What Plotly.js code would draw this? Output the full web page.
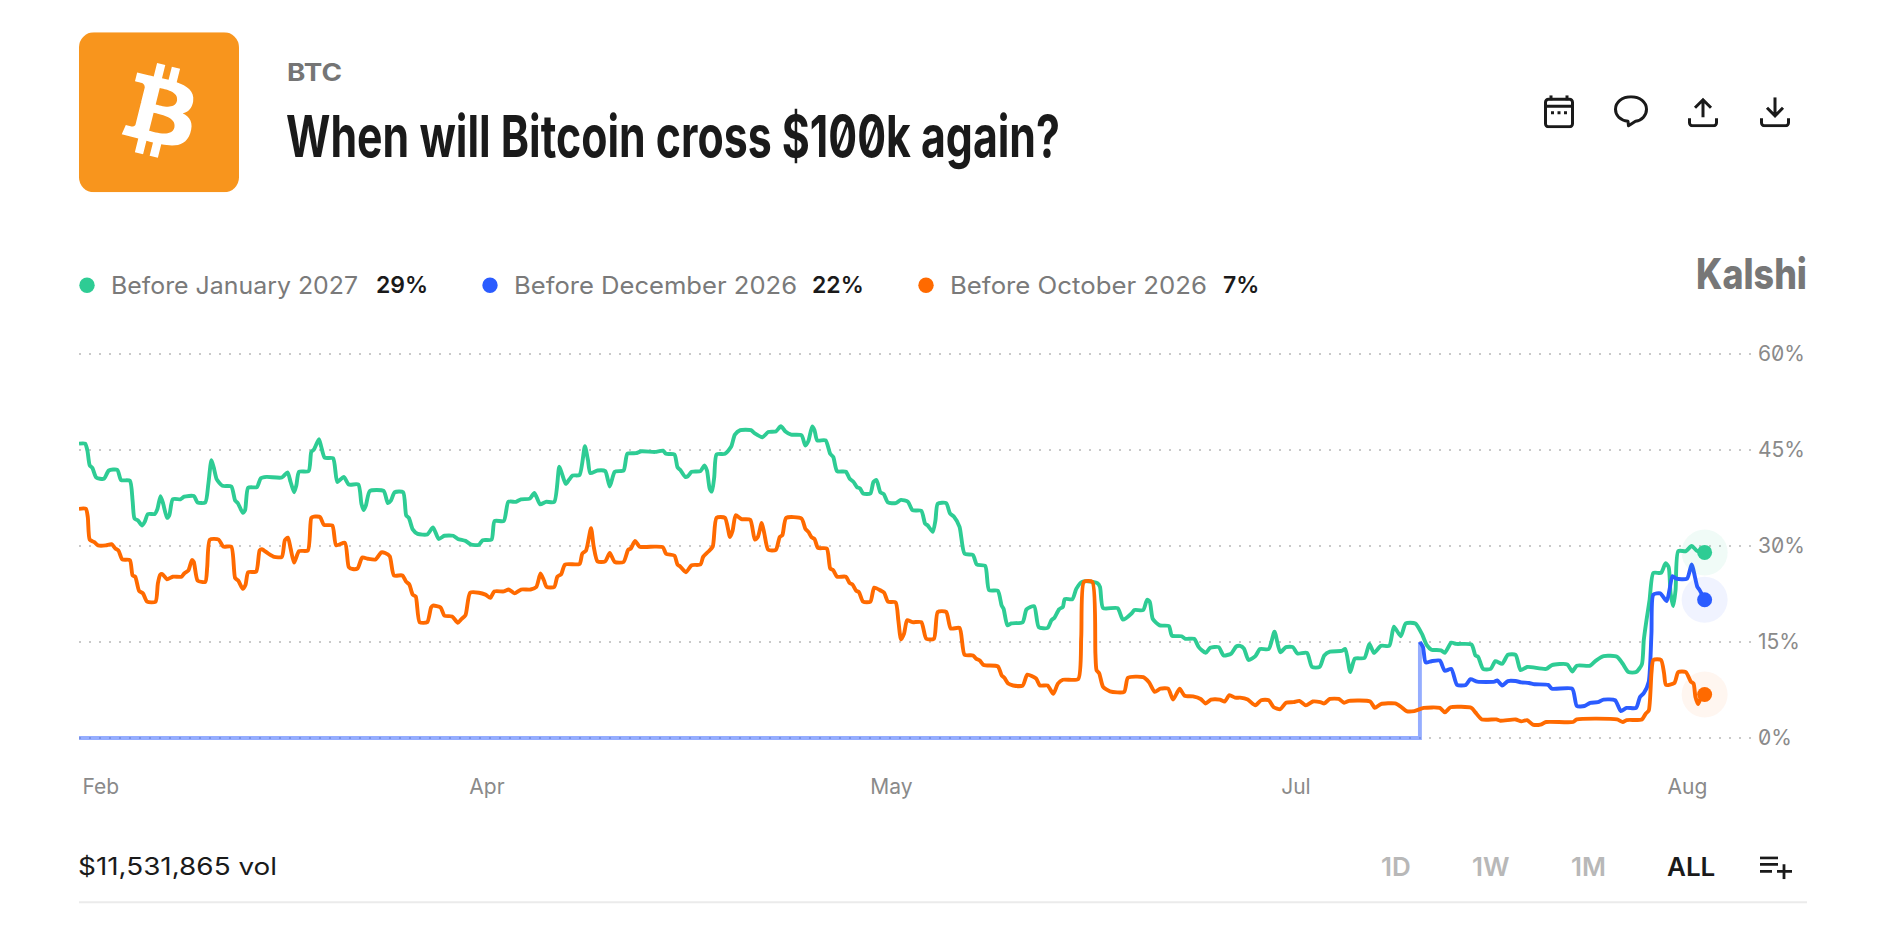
<!DOCTYPE html>
<html><head><meta charset="utf-8">
<script src="https://cdn.plot.ly/plotly-3.0.1.min.js"></script>
<style>
html,body{margin:0;padding:0;background:#fff;overflow:hidden}
#chart{width:1894px;height:928px}
.ytick text{font-feature-settings:"zero" 1;}
</style></head><body><div id="chart"></div>
<script>
// [hours since market open, probability %]
const janPoints=[[0,46.0],[16,46.0],[22,44.9],[28,42.6],[35,42.2],[45,40.7],[65,40.5],[78,41.8],[100,41.9],[110,40.3],[133,40.2],[140,37.1],[145,34.3],[154,34.0],[165,33.2],[172,33.8],[180,35.0],[198,35.0],[205,35.8],[213,37.8],[220,36.6],[230,34.4],[236,34.8],[245,37.3],[265,37.3],[275,37.7],[300,37.8],[310,36.8],[330,36.8],[338,39.7],[346,43.4],[352,42.3],[360,40.4],[375,39.4],[398,39.3],[408,37.1],[415,36.7],[428,35.2],[434,35.6],[442,39.1],[465,39.2],[475,40.6],[490,40.8],[530,40.7],[545,41.5],[553,40.0],[562,38.4],[568,39.5],[575,41.6],[600,41.7],[607,44.7],[614,45.1],[627,46.7],[633,45.5],[642,43.8],[664,43.7],[675,40.0],[692,40.8],[705,39.6],[730,39.6],[738,36.6],[744,35.6],[750,36.4],[760,38.6],[796,38.6],[807,36.7],[815,37.1],[825,38.4],[847,38.4],[855,34.8],[862,34.4],[872,32.6],[885,31.9],[910,31.8],[925,32.9],[940,31.1],[955,31.6],[978,31.6],[990,31.1],[1010,30.8],[1025,30.2],[1045,30.2],[1055,30.9],[1078,31.0],[1086,33.9],[1110,33.9],[1122,36.9],[1142,36.9],[1155,37.3],[1178,37.4],[1190,38.3],[1205,36.5],[1220,36.9],[1242,36.9],[1255,42.4],[1262,41.3],[1272,39.7],[1280,40.3],[1290,41.0],[1308,41.1],[1322,45.6],[1330,43.4],[1336,41.4],[1355,41.8],[1375,41.7],[1387,39.3],[1400,41.6],[1423,41.8],[1433,44.4],[1455,44.5],[1470,44.8],[1505,44.7],[1526,44.9],
[1534,44.4],[1556,44.3],[1564,42.3],[1571,41.9],[1584,40.8],[1591,40.9],[1601,41.6],[1624,41.7],[1634,42.6],[1641,41.8],[1648,39.0],[1654,38.5],[1660,40.8],[1666,44.3],[1688,44.4],[1704,45.5],[1714,47.4],[1728,48.1],[1756,48.1],[1766,47.6],[1786,47.0],[1801,47.8],[1821,47.9],[1834,48.7],[1846,47.9],[1861,47.4],[1888,47.3],[1898,45.7],[1906,46.4],[1916,48.7],[1922,48.1],[1929,46.5],[1951,46.5],[1963,44.4],[1971,43.9],[1981,41.7],[2004,41.6],[2014,40.5],[2024,40.0],[2033,39.2],[2041,39.0],[2049,38.2],[2068,38.2],[2076,40.0],[2084,40.3],[2094,38.4],[2103,38.1],[2114,36.8],[2134,36.7],[2148,37.2],[2166,36.9],[2178,35.6],[2201,35.5],[2211,33.5],[2218,33.2],[2231,32.2],[2238,34.0],[2244,36.6],[2266,36.7],[2276,35.1],[2286,34.6],[2301,33.0],[2314,28.8],[2336,28.6],[2346,27.1],[2368,26.9],[2378,23.1],[2401,23.0],[2411,20.7],[2416,20.2],[2426,17.6],[2436,17.9],[2466,18.1],[2476,20.1],[2496,20.6],[2508,17.3],[2531,17.2],[2541,18.4],[2549,18.8],[2561,20.1],[2571,20.5],[2576,21.7],[2596,21.7],[2606,23.3],[2621,24.4],[2636,24.5],[2661,24.2],[2668,23.6],[2676,20.3],[2714,20.3],[2728,18.5],[2751,19.5],[2758,20.0],[2781,20.0],[2791,21.6],[2798,21.3],[2806,18.6],[2824,17.6],[2848,17.5],[2856,16.0],[2881,15.9],[2891,15.5],[2914,15.5],[2926,14.2],[2944,13.3],[2956,14.1],[2978,14.2],[2991,12.9],[3011,13.2],[3024,14.3],
[3034,14.4],[3044,14.0],[3056,12.2],[3074,12.8],[3086,13.9],[3109,13.9],[3124,16.6],[3139,13.4],[3154,14.2],[3172,14.2],[3184,13.2],[3209,13.3],[3222,11.1],[3242,11.1],[3254,12.9],[3269,13.5],[3299,13.6],[3309,13.9],[3322,10.3],[3334,12.4],[3359,12.5],[3372,14.7],[3384,13.3],[3402,14.4],[3424,14.4],[3436,17.4],[3454,15.9],[3467,17.9],[3492,17.9],[3509,16.3],[3522,14.5],[3534,13.8],[3559,13.7],[3569,13.3],[3586,14.9],[3599,14.7],[3639,14.6],[3649,12.9],[3656,12.7],[3669,10.8],[3689,10.8],[3701,12.0],[3719,11.6],[3734,13.0],[3754,13.0],[3767,10.6],[3784,11.1],[3834,10.8],[3849,11.4],[3889,11.5],[3902,10.4],[3914,11.3],[3949,11.3],[3964,12.1],[3984,12.8],[4019,12.7],[4034,11.6],[4049,10.3],[4069,10.3],[4084,11.5],[4089,15.3],[4096,18.4],[4104,21.5],[4114,25.8],[4134,25.8],[4146,27.3],[4154,26.7],[4159,22.6],[4166,20.6],[4172,23.1],[4179,29.2],[4199,29.2],[4214,30.0],[4229,29.2],[4248,29.0]];
const decListingPoints=[[0,0],[3504,0],[3504,15]];
const decPoints=[[3504,15],[3512,14.2],[3519,11.8],[3534,12.0],[3556,12.1],[3569,10.5],[3586,10.8],[3601,8.3],[3624,8.3],[3636,9.2],[3654,8.8],[3699,8.8],[3706,9.0],[3719,8.2],[3734,8.9],[3754,8.9],[3769,8.7],[3789,8.6],[3804,8.4],[3839,8.3],[3849,7.7],[3902,7.7],[3914,5.0],[3934,5.0],[3949,5.5],[3969,5.6],[3984,6.0],[4014,5.9],[4029,4.2],[4044,4.7],[4069,4.7],[4079,6.4],[4089,7.0],[4102,8.8],[4109,16.3],[4114,22.4],[4132,22.6],[4149,21.4],[4156,23.1],[4164,25.3],[4174,24.9],[4202,24.9],[4214,27.1],[4229,23.6],[4234,23.2],[4248,21.6]];
const octPoints=[[0,35.8],[18,35.8],[23,34.5],[28,31.0],[40,30.6],[50,30.1],[70,30.1],[85,30.3],[95,29.6],[103,29.3],[113,27.9],[133,27.8],[140,25.4],[147,25.2],[157,23.0],[167,22.6],[178,21.3],[200,21.3],[206,24.1],[212,25.5],[218,25.6],[230,24.8],[245,25.2],[268,25.2],[275,25.7],[286,26.2],[295,27.8],[300,27.5],[310,24.6],[330,24.4],[335,26.7],[342,31.0],[365,31.0],[377,29.9],[398,29.9],[408,25.0],[416,24.6],[428,23.3],[435,23.9],[442,25.9],[463,26.0],[472,29.3],[478,29.5],[495,28.8],[510,28.3],[530,28.3],[538,30.9],[546,31.3],[553,29.6],[562,27.4],[575,29.2],[598,29.3],[607,34.4],[614,34.6],[630,34.5],[640,33.3],[662,33.2],[672,30.1],[695,30.5],[705,26.7],[715,26.4],[728,26.5],[740,28.2],[755,28.0],[775,27.9],[790,29.0],[800,28.9],[812,28.4],[823,25.4],[845,25.4],[855,24.4],[863,24.0],[872,22.4],[880,22.1],[890,18.1],[910,18.1],[920,20.4],[925,20.7],[945,20.4],[955,19.1],[975,19.0],[990,18.0],[998,18.5],[1010,19.2],[1022,22.7],[1045,22.7],[1062,22.4],[1075,21.9],[1085,22.9],[1110,22.9],[1123,23.2],[1138,22.6],[1155,23.2],[1180,23.2],[1195,23.6],[1206,25.7],[1215,24.6],[1222,23.6],[1242,23.6],[1250,25.2],[1260,25.6],[1270,27.1],[1308,27.2],[1315,28.8],[1325,29.3],[1338,32.8],[1345,29.9],[1355,27.6],[1375,27.6],[1387,28.9],[1400,27.5],[1423,27.5],[1435,29.4],[1442,29.6],[1453,30.8],[1465,29.9],[1505,29.9],[1526,29.8],
[1534,28.8],[1556,28.5],[1564,27.1],[1571,26.8],[1586,25.9],[1601,27.0],[1624,27.1],[1631,28.3],[1644,29.1],[1656,29.9],[1666,34.4],[1688,34.4],[1701,31.4],[1708,32.4],[1716,34.8],[1731,34.2],[1754,34.1],[1766,31.0],[1774,31.4],[1784,33.6],[1791,31.9],[1801,29.4],[1821,29.4],[1831,31.4],[1838,31.7],[1848,34.4],[1888,34.3],[1898,32.7],[1906,32.2],[1914,31.4],[1922,31.1],[1931,29.7],[1954,29.6],[1963,26.5],[1971,26.2],[1981,25.2],[2004,25.2],[2014,24.2],[2021,24.0],[2031,23.0],[2038,22.8],[2049,21.3],[2068,21.3],[2078,23.5],[2096,23.0],[2104,22.7],[2114,21.3],[2134,21.2],[2141,18.4],[2148,15.4],[2156,16.3],[2164,18.4],[2178,18.1],[2201,18.1],[2214,15.5],[2234,15.5],[2244,19.7],[2266,19.7],[2278,17.1],[2301,17.2],[2314,13.0],[2336,12.9],[2344,12.4],[2354,12.1],[2364,11.4],[2401,11.2],[2411,9.8],[2418,9.4],[2428,8.5],[2441,8.2],[2466,8.2],[2478,9.9],[2501,9.3],[2511,8.2],[2531,8.2],[2546,6.9],[2558,8.5],[2571,9.1],[2611,9.2],[2619,15.8],[2626,24.4],[2648,24.4],[2656,13.2],[2659,10.6],[2666,10.1],[2676,8.0],[2694,7.3],[2731,7.2],[2741,9.4],[2781,9.5],[2796,8.7],[2811,7.2],[2826,7.7],[2846,7.7],[2859,6.0],[2876,7.7],[2889,6.6],[2911,6.5],[2931,6.1],[2944,5.4],[2958,6.0],[2981,6.0],[2994,5.7],[3006,6.7],[3021,6.3],[3030,6.3],
[3034,6.3],[3054,6.0],[3074,5.1],[3089,5.9],[3109,5.9],[3122,4.8],[3139,4.5],[3154,5.5],[3174,5.6],[3189,5.8],[3206,5.1],[3224,5.7],[3244,5.6],[3254,5.4],[3269,6.1],[3292,6.1],[3306,5.5],[3319,5.8],[3374,5.7],[3386,4.7],[3402,5.3],[3439,5.4],[3454,4.9],[3469,4.2],[3489,4.2],[3514,4.7],[3556,4.7],[3569,4.0],[3584,4.8],[3639,4.7],[3649,4.0],[3666,2.9],[3704,2.9],[3714,2.7],[3754,2.9],[3769,2.6],[3784,2.8],[3799,2.1],[3819,2.1],[3834,2.5],[3904,2.5],[3914,2.9],[4019,2.9],[4034,2.5],[4044,2.8],[4084,2.9],[4094,3.8],[4102,4.3],[4109,10.1],[4114,12.2],[4134,12.2],[4142,10.1],[4147,8.3],[4169,8.6],[4179,10.3],[4199,10.3],[4212,8.8],[4219,8.5],[4224,6.4],[4231,5.3],[4239,6.4],[4248,6.8]];

const xTickHours=[57,1066,2123,3180,4203];
const xTickLabels=['Feb','Apr','May','Jul','Aug'];
const yTickVals=[0,15,30,45,60];
const yTickLabels=['0%','15%','30%','45%','60%'];
const seriesNames=['Before January 2027','Before December 2026','Before October 2026'];
const seriesLatest=['29%','22%','7%'];
const seriesColors=['#2ECC94','#2B5CFF','#FF6A00'];
const haloColors=['rgba(46,204,148,0.07)','rgba(43,92,255,0.07)','rgba(255,106,0,0.06)'];
const volumeLabel='$11,531,865 vol';
const rangeLabels=['1D','1W','1M','ALL'];

const L=79,R=1754,T=321.7,B=769.7,W=R-L,H=B-T;
const fx=x=>(x-L)/W, fy=y=>(B-y)/H;
const xs=a=>a.map(p=>p[0]), ys=a=>a.map(p=>p[1]);
const line=(pts,color,name,width)=>({type:'scatter',mode:'lines',x:xs(pts),y:ys(pts),name,hoverinfo:'skip',cliponaxis:false,
  line:{color,width:width||3.9,shape:'spline',smoothing:0.6}});
const sets=[janPoints,decPoints,octPoints];
const traces=[
  {type:'scatter',mode:'lines',x:xs(decListingPoints),y:ys(decListingPoints),name:'listing',hoverinfo:'skip',cliponaxis:false,line:{color:'rgba(43,92,255,0.5)',width:3.9}},
  line(janPoints,seriesColors[0],seriesNames[0]),
  line(decPoints,seriesColors[1],seriesNames[1]),
  line(octPoints,seriesColors[2],seriesNames[2]),
];
sets.forEach((s,i)=>{const e=s[s.length-1];
  traces.push({type:'scatter',mode:'markers',x:[e[0]],y:[e[1]],hoverinfo:'skip',cliponaxis:false,marker:{size:46,color:haloColors[i],line:{width:0}}});
});
sets.forEach((s,i)=>{const e=s[s.length-1];
  traces.push({type:'scatter',mode:'markers',x:[e[0]],y:[e[1]],hoverinfo:'skip',cliponaxis:false,marker:{size:15,color:seriesColors[i],line:{width:0}}});
});

const FONT='Inter, "Noto Sans", sans-serif';
const note=(text,x,y,size,color,weight)=>({text,x:fx(x),y:fy(y),xref:'paper',yref:'paper',xanchor:'left',yanchor:'middle',align:'left',showarrow:false,borderpad:0,borderwidth:0,
  font:{family:FONT,size,color,weight:weight||400}});
const annotations=[
  note('BTC',287,72,24,'#757575',700),
  note('When will Bitcoin cross $100k again?',286,136,58,'#1a1a1a',700),
  note('Kalshi',1696,273,42,'#777777',800),
  note(seriesNames[0],111,285,24,'#7a7a7a'),
  note(seriesLatest[0],376,285,23,'#1a1a1a',600),
  note(seriesNames[1],514,285,24,'#7a7a7a'),
  note(seriesLatest[1],812,285,23,'#1a1a1a',600),
  note(seriesNames[2],950,285,24,'#7a7a7a'),
  note(seriesLatest[2],1223,285,23,'#1a1a1a',600),
  note(volumeLabel,78,866,24,'#1a1a1a'),
];
const rangeX=[1381,1472,1571,1667];
rangeLabels.forEach((t,i)=>annotations.push(note(t,rangeX[i],866,26,i==3?'#1a1a1a':'#b8b8b8',600)));

const dot=(cx,color)=>({type:'circle',xref:'paper',yref:'paper',x0:fx(cx-7.7),x1:fx(cx+7.7),y0:fy(285+7.7),y1:fy(285-7.7),fillcolor:color,line:{width:0},layer:'above'});
const shapes=[dot(87,seriesColors[0]),dot(490,seriesColors[1]),dot(926,seriesColors[2]),
 {type:'line',xref:'paper',yref:'paper',x0:fx(79),x1:fx(1807),y0:fy(902),y1:fy(902),line:{color:'#ebebeb',width:2},layer:'above'}];

const S='#1a1a1a';
const svg=(w,h,body)=>'data:image/svg+xml;charset=utf-8,'+encodeURIComponent(`<svg xmlns="http://www.w3.org/2000/svg" viewBox="0 0 ${w} ${h}" width="${w}" height="${h}">${body}</svg>`);
const BTCPATH="M46.103 27.444c.637-4.258-2.605-6.547-7.038-8.074l1.438-5.768-3.511-.875-1.4 5.616c-.923-.23-1.871-.447-2.813-.662l1.41-5.653-3.51-.875-1.44 5.766c-.764-.174-1.514-.346-2.242-.527l.004-.018-4.842-1.209-.934 3.75s2.605.597 2.55.634c1.422.355 1.679 1.296 1.636 2.042l-1.638 6.571c.098.025.225.061.365.117l-.371-.092-2.296 9.205c-.174.432-.615 1.08-1.609.834.035.051-2.552-.637-2.552-.637l-1.743 4.019 4.569 1.139c.85.213 1.683.436 2.503.646l-1.453 5.834 3.507.875 1.44-5.772c.957.26 1.887.5 2.797.726L27.504 50.8l3.511.875 1.453-5.823c5.987 1.133 10.49.676 12.383-4.738 1.527-4.36-.075-6.875-3.225-8.516 2.294-.531 4.022-2.04 4.483-5.157zM38.08 38.69c-1.086 4.36-8.426 2.004-10.807 1.412l1.928-7.729c2.38.594 10.011 1.77 8.88 6.317zm1.085-11.309c-.99 3.966-7.1 1.951-9.083 1.457l1.748-7.008c1.983.494 8.367 1.416 7.335 5.551z";
const img=(src,x,y,w,h)=>({source:src,xref:'paper',yref:'paper',x:fx(x),y:fy(y),sizex:w/W,sizey:h/H,xanchor:'left',yanchor:'top',sizing:'stretch',layer:'above'});
const images=[
 img(svg(160,160,`<rect width="160" height="160" rx="15" fill="#F8951D"/><g transform="translate(80 80) scale(2.34) translate(-31.5 -32.2)"><path fill="#fff" d="${BTCPATH}"/></g>`),79,32,160,160),
 img(svg(30,33,`<rect x="1.5" y="4" width="27" height="27.5" rx="3" fill="none" stroke="${S}" stroke-width="3"/><path d="M1.5 11H28.5M7 0V5M23 0V5" stroke="${S}" stroke-width="3" fill="none"/><path d="M7 16h3v3H7zM13.5 16h3v3h-3zM20 16h3v3h-3z" fill="${S}"/>`),1544,95,30,33),
 img(svg(34,33,`<path d="M17 1.5C8 1.5 1.5 7 1.5 14c0 6.500 5 11 12.500 12l.5 4.500 7-4.500C28 25 32.500 20 32.500 14 32.500 7 26 1.500 17 1.500z" fill="none" stroke="${S}" stroke-width="3" stroke-linejoin="round"/>`),1614,95,34,33),
 img(svg(30,30,`<path d="M15 20V3M7 10.500 15 2.500l8 8M1.500 21v4.500a3 3 0 0 0 3 3h21a3 3 0 0 0 3-3V21" fill="none" stroke="${S}" stroke-width="3"/>`),1688,97,30,30),
 img(svg(30,30,`<path d="M15 0V18M7 10.500 15 18.500l8-8M1.500 21v4.500a3 3 0 0 0 3 3h21a3 3 0 0 0 3-3V21" fill="none" stroke="${S}" stroke-width="3"/>`),1760,97,30,30),
 img(svg(32,23,`<path d="M0 1.500H18M0 8H18M0 15H12M17 15H32M24 8V23" fill="none" stroke="${S}" stroke-width="2.800"/>`),1760,856,32,23),
];

const layout={width:1894,height:928,margin:{l:L,r:1894-R,t:T,b:928-B,pad:0},paper_bgcolor:'#fff',plot_bgcolor:'#fff',showlegend:false,
 font:{family:FONT},
 xaxis:{range:[0,4377],tickmode:'array',tickvals:xTickHours,ticktext:xTickLabels,showgrid:false,zeroline:false,showline:false,ticks:'',tickfont:{family:FONT,size:21,color:'#8a8a8a'},ticklen:0,ticklabelstandoff:2,fixedrange:true,tickangle:0},
 yaxis:{side:'right',range:[-5,65],tickmode:'array',tickvals:yTickVals,ticktext:yTickLabels,showgrid:true,griddash:'2px,8px',gridcolor:'#c9c9c9',gridwidth:1.5,zeroline:false,showline:false,ticks:'',tickfont:{family:FONT,size:21,color:'#8a8a8a'},ticklabelstandoff:3,fixedrange:true},
 annotations,shapes,images};
Plotly.newPlot('chart',traces,layout,{displayModeBar:false,staticPlot:true}).then(()=>{
  const texts=[...document.querySelectorAll('.annotation-text')];
  const fit=(t,len)=>{const e=texts.find(n=>n.textContent===t);if(e){e.setAttribute('textLength',len);e.setAttribute('lengthAdjust','spacingAndGlyphs');}};
  fit('When will Bitcoin cross $100k again?',774);
  fit('Kalshi',111);
  fit('BTC',55);
  fit(seriesNames[0],247);fit(seriesNames[1],283);fit(seriesNames[2],257);
  fit(volumeLabel,199);
  const title=texts.find(n=>n.textContent.startsWith('When'));
  if(title) title.style.fontFeatureSettings='"zero" 1';
});
</script></body></html>
